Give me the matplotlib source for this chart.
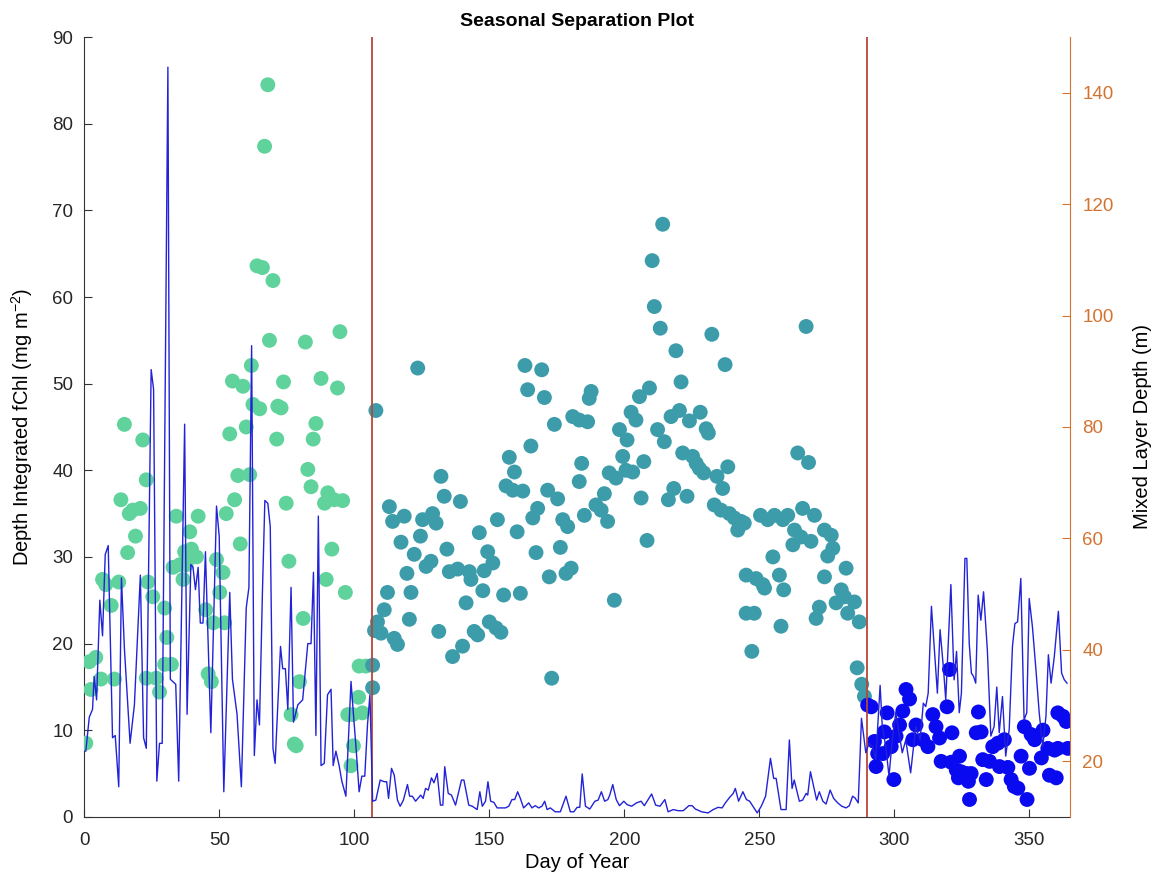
import numpy as np
import matplotlib
matplotlib.use("Agg")
import matplotlib.pyplot as plt

plt.rcParams['font.family'] = ['Liberation Sans', 'DejaVu Sans']
plt.rcParams['mathtext.default'] = 'regular'

# ---------------- Data ----------------
# season boundaries (day of year)
season_bounds = [106.5, 290]

# season 1 (green) depth integrated fChl
s1_day = [0.6, 1.9, 4.3, 2.5, 6.2, 6.8, 8, 10, 11.2, 12.8, 13.6, 14.9, 16.1, 16.7, 18, 20.8,
          19, 21.7, 23, 23, 26.7, 23.6, 25.4, 29.8, 30.6, 29.8, 32.3, 27.9, 34.1, 39.1, 42.2,
          32.9, 35.4, 36.6, 37.2, 39.7, 41.6, 37.8, 45, 45.9, 47.1, 47.8, 49,
          68, 66.8, 64, 66, 69.9, 68.6, 81.9, 94.7, 54.9, 58.8, 61.9, 73.8, 87.7, 93.8,
          62.5, 65, 71.7, 72.9, 53.9, 60, 71.3, 85.8, 84.8, 56.9, 61.3, 82.8, 55.7, 52.6,
          74.8, 84, 90.2, 89, 92.6, 95.7, 57.8, 91.7, 51.4, 75.8, 89.6, 96.7, 50.2, 52,
          81.1, 79.7, 76.6, 78.5, 77.8, 101.8, 104.3, 101.6, 97.6, 99.4, 99.7, 98.8, 103]
s1_chl = [8.5, 17.9, 18.4, 14.7, 15.9, 27.4, 26.8, 24.4, 15.9, 27.1, 36.6, 45.3, 30.5, 35, 35.4, 35.6,
          32.4, 43.5, 38.9, 16, 16, 27.1, 25.4, 24.1, 20.7, 17.6, 17.6, 14.4, 34.7, 32.9, 34.7,
          28.8, 29.1, 27.4, 30.6, 30.9, 30, 29.1, 23.9, 16.5, 15.6, 22.4, 29.7,
          84.5, 77.4, 63.6, 63.4, 61.9, 55, 54.8, 56, 50.3, 49.7, 52.1, 50.2, 50.6, 49.5,
          47.6, 47.1, 47.4, 47.2, 44.2, 45, 43.6, 45.4, 43.6, 39.4, 39.5, 40.1, 36.6, 35,
          36.2, 38.1, 37.4, 36.2, 36.6, 36.5, 31.5, 30.9, 28.2, 29.5, 27.4, 25.9, 25.9, 22.4,
          22.9, 15.6, 11.8, 8.2, 8.4, 17.4, 17.4, 13.8, 11.8, 11.8, 8.2, 5.9, 12]

# season 2 (teal)
s2_day = [108, 123.5, 163.2, 169.4, 164.2, 170.4, 187.7, 187, 174.1, 180.9, 183.3, 186.4, 157.4,
          165.4, 159.3, 184.2, 183.3, 156.2, 158.7, 162.4, 171.6, 175.3, 132.1, 133.3, 139.3,
          167.9, 166.1, 177.2, 179, 185.2, 192.6, 194.4, 196.9, 189.5, 191.4, 193.8, 113, 114.2,
          118.5, 125.3, 129, 130.3, 153, 146.3, 160.3, 117.3, 124.5, 134.3, 122.2, 149.4, 151.3,
          148.1, 126.6, 128.4, 135.2, 138.3, 142.6, 143.2, 167.3, 176.3, 172.2, 178.4, 180.3,
          119.5, 112.3, 121, 141.4, 147.6, 155.3, 161.5, 111.1, 108.6, 109.9, 120.4, 114.8, 116,
          131.3, 144.4, 145.7, 150, 152.5, 154.3, 136.4, 140.1, 173.1, 106.8, 106.8, 107.5,
          214.2, 210.3, 211.1, 213.3, 232.4, 267.3, 219.1, 237.3, 221, 209.3, 205.6, 202.5,
          204.3, 217.3, 220.4, 224.1, 228.1, 230.3, 231.1, 212.3, 214.8, 198.2, 201, 199.4,
          207.2, 200.6, 203.1, 221.6, 225.3, 226.6, 227.8, 229.4, 238.3, 234.3, 236.4, 264.2,
          268.2, 218.3, 216.3, 223.2, 206.2, 233.3, 235.8, 238.9, 240.7, 243.2, 244.4, 242,
          250.4, 255.6, 260.5, 266, 270.4, 253.1, 258.7, 263, 265.4, 274.1, 276.6, 262.4, 269.1,
          277.2, 275.3, 208.4, 255, 282.1, 245.1, 248.8, 251.3, 251.9, 257.4, 259, 274.1, 280.3,
          278.4, 281.5, 285.2, 282.7, 287, 272.2, 271, 245.1, 248.1, 258, 247.2, 196.3, 286.2,
          287.9, 288.9]
s2_chl = [46.9, 51.8, 52.1, 51.6, 49.3, 48.4, 49.1, 48.3, 45.3, 46.2, 45.8, 45.6, 41.5,
          42.8, 39.8, 40.8, 38.7, 38.2, 37.7, 37.6, 37.7, 36.7, 39.3, 37, 36.4,
          35.6, 34.5, 34.3, 33.5, 34.8, 37.3, 39.7, 39.1, 36, 35.4, 34.1, 35.8, 34.1,
          34.7, 34.3, 35, 33.9, 34.3, 32.8, 32.9, 31.7, 32.4, 30.9, 30.3, 30.6, 29.3,
          28.4, 28.9, 29.5, 28.3, 28.6, 28.3, 27.4, 30.5, 31.1, 27.7, 28.1, 28.7,
          28.1, 25.9, 25.9, 24.7, 26.1, 25.6, 25.8, 23.9, 22.5, 21.2, 22.8, 20.6, 19.9,
          21.4, 21.4, 21, 22.5, 21.8, 21.3, 18.5, 19.7, 16, 17.5, 14.9, 21.5,
          68.4, 64.2, 58.9, 56.4, 55.7, 56.6, 53.8, 52.2, 50.2, 49.5, 48.5, 46.7,
          45.8, 46.2, 46.9, 45.7, 46.7, 44.8, 44.3, 44.7, 43.3, 44.7, 43.5, 41.6,
          41, 40, 39.8, 42, 41.6, 40.8, 40.2, 39.7, 40.4, 39.3, 37.9, 42,
          40.9, 37.9, 36.6, 37, 36.8, 36, 35.4, 35, 34.5, 34.1, 33.9, 33.1,
          34.8, 34.8, 34.8, 35.6, 34.8, 34.3, 34.3, 33.1, 32.3, 33.1, 32.5, 31.4, 31.8,
          31, 30.1, 31.9, 30, 28.7, 27.9, 27.5, 26.8, 26.4, 27.9, 26.2, 27.7, 26.2,
          24.7, 25.4, 24.8, 23.5, 22.5, 24.2, 22.9, 23.5, 23.5, 22, 19.1, 25, 17.2,
          15.3, 13.9]

# season 3 (blue)
s3_day = [290.1, 291.4, 292.6, 293.8, 293.2, 295.7, 296.3, 297.3, 298.8, 299.8, 301.9, 303.1,
          300.6, 304.3, 305.6, 308, 306.8, 310.5, 312.4, 314.2, 315.4, 316.7, 317.3, 320.4,
          319.5, 321.3, 321, 324.1, 322.9, 324.7, 326.6, 328.4, 323.7, 327.4, 327.8, 330.3,
          332.1, 331.1, 334, 332.7, 335.2, 336.4, 338.3, 340.7, 338.9, 342, 343.2, 344.4,
          345.7, 349.1, 346.9, 348.1, 350.6, 351.9, 350, 355, 354.4, 356.8, 359.3, 357.4,
          359.9, 360.5, 362.4, 363.6, 360.5, 364.2]
s3_chl = [12.9, 12.7, 8.7, 7.3, 5.8, 7.3, 9.8, 12, 8.1, 4.3, 10.6, 12.2,
          9.3, 14.7, 13.6, 10.6, 8.9, 8.9, 8.1, 11.8, 10.4, 9.1, 6.4, 17,
          12.7, 9.7, 6.3, 7, 5.4, 5.2, 5, 5, 4.5, 4.1, 2, 9.7,
          9.8, 12.1, 4.3, 6.6, 6.4, 8.1, 8.5, 8.9, 5.8, 5.7, 4.3, 3.5,
          3.3, 2, 7, 10.4, 9.5, 8.9, 5.6, 10, 6.8, 7.9, 7.7, 4.8,
          4.5, 12, 11.6, 11, 7.9, 7.9]

# mixed layer depth (m), right axis
mld_day = [0.6, 1.9, 3.1, 3.7, 4.6, 5.8, 6.8, 7.8, 8.9, 10.5, 11.5, 12.8, 13.8, 14.9, 17, 18.6,
           20.8, 22, 23, 24.8, 25.7, 26.9, 27.9, 28.9, 31, 31.9, 33.9, 35, 37.2, 38.1, 39.5,
           40.3, 41.2, 42.2, 43, 44, 44.9, 46.9, 49, 50, 51.7, 53.9, 54.9, 56.6, 58.2, 60, 61,
           62, 63, 64, 64.9, 66, 66.9, 68, 68.9, 69.9, 70.7, 72.7, 73.5, 74.5, 75.4, 76.6,
           77.5, 79.1, 80.9, 82.8, 84, 84.9, 85.8, 86.7, 87.7, 88.9, 90.1, 91.4, 92.2, 93.2,
           94.4, 95.4, 96.9, 98.8, 99.7, 100.6, 101.8, 102.8, 103.9, 104.9, 105.8, 106.8, 108,
           109.6, 111.1, 112, 112.7, 113.8, 114.8, 116, 117, 118.2, 119.7, 120.5, 121.5, 122.7,
           124.6, 125.5, 126.4, 127.4, 128.6, 129.5, 130.7, 131.9, 132.8, 133.5, 134.8, 136,
           137.5, 139.7, 140.6, 142.4, 143.7, 145.5, 146.5, 147.4, 148.6, 149.5, 150.5, 151.7,
           152.9, 156, 157.2, 158.4, 159.4, 160.5, 161.5, 162.7, 164.6, 165.8, 167, 168.3,
           169.5, 170.5, 171.4, 172.6, 174.4, 176.3, 178.4, 180, 181.3, 182.5, 183.5, 184.4,
           185.6, 187.2, 189.1, 190.3, 191.5, 192.7, 193.9, 194.6, 195.7, 197, 198.2, 199.8,
           201, 202.7, 204.5, 206.2, 207.4, 210.1, 211.6, 213.2, 215, 216.2, 218.1, 219.9,
           221.8, 223.9, 225.1, 226.3, 228.6, 231, 232.9, 234.7, 236.2, 237.4, 239, 240.3,
           241.1, 242.3, 243.9, 245.2, 246.4, 247.6, 249.2, 250.7, 252.3, 254.1, 255.3, 256.2,
           258, 259.9, 261.1, 262.1, 262.9, 264.8, 266, 267.3, 267.9, 268.9, 270.1, 271.2,
           272.2, 273.5, 274.7, 276.2, 277.5, 279, 280.5, 282.1, 283.3, 284.5, 285.4, 286.6,
           287.8, 289.4, 290.6, 291.9, 293.1, 294.7, 295.5, 296.8, 298, 299.2, 300.5, 301.7,
           302.9, 304.2, 306, 307.9, 309.5, 310.7, 311.6, 312.5, 313.7, 314.9, 315.9, 316.9,
           318.2, 319, 320.9, 322.1, 323, 324, 324.8, 326.1, 326.8, 327.7, 328.5, 329.3, 330.1,
           331, 332, 333, 334.4, 335.7, 336.9, 337.9, 338.8, 340, 341.2, 342.5, 343.7, 344.6,
           345.6, 346.8, 348, 349, 349.9, 351.1, 352.4, 353.6, 354.9, 356.1, 357, 358, 359.2,
           360.7, 361.9, 362.9, 363.9]
mld = [21.8, 27.9, 29.3, 35.2, 31, 48.9, 42.5, 57.1, 58.7, 24.2, 24.6, 15.4, 52.9, 40.2, 23.2, 30.1,
       53.4, 24.2, 22.3, 90.3, 86.8, 16.4, 23.2, 23.2, 144.6, 34.7, 33.8, 16.4, 80.5, 28.4, 55.3,
       54.8, 50.8, 54.8, 44.8, 44.8, 57.6, 25.1, 65.8, 60.4, 14.5, 50.3, 34.7, 28.4, 15.4, 47.5, 51.2,
       94.6, 21, 31, 26.5, 50.3, 66.8, 66.3, 62.1, 22.3, 19.6, 40.6, 36.6, 36.6, 29.3, 51.2,
       27, 30.1, 31, 41.1, 41.1, 53.9, 24.6, 64, 19.2, 19.6, 31.9, 32.9, 19.2, 21.8,
       19.2, 16.4, 13.7, 34.3, 28.4, 22.8, 14.5, 17.3, 17.3, 26.5, 31.9, 12.8, 13,
       16.6, 16.3, 16.3, 13.3, 18.7, 17.5, 13, 11.9, 13, 15.8, 13.7, 13.7, 12.8,
       13.9, 13.3, 15.1, 14.8, 17, 16.1, 17.8, 12.1, 12.1, 19, 14.2, 13.9,
       12.1, 16.6, 16.6, 12.1, 11.9, 11.3, 14.5, 11.9, 12.8, 16.3, 12.8, 12.6,
       11.6, 11.6, 11.9, 13.1, 13.1, 14.5, 13.3, 11.6, 12.5, 11.6, 12, 11.6,
       11.9, 12.8, 11.3, 11.6, 10.9, 10.9, 13.7, 10.9, 10.9, 11.7, 11.7, 17.7,
       11.9, 11.4, 12.8, 13, 14.5, 12.8, 13.1, 13.9, 15.8, 13.1, 12, 12.8,
       12.2, 11.9, 12.5, 12.8, 12, 14.1, 12.1, 11.9, 13.1, 10.9, 11.3, 11.1,
       11.1, 12, 12, 11.4, 10.9, 10.7, 11.3, 11.7, 11.6, 12.5, 13.5, 14.2,
       15.1, 12.8, 14.5, 13.1, 12.8, 11.9, 10.7, 11.9, 13.7, 20.5, 16.9, 16.9,
       11.3, 11.3, 23.8, 15.1, 16.6, 12.8, 13, 14.2, 13.9, 18.1, 15.4, 13,
       14.5, 12.8, 12.3, 14.8, 13.3, 12.5, 11.9, 11.6, 12, 13.7, 13.4, 12.5,
       27.7, 21.5, 23.2, 22.6, 20.3, 33.6, 26.2, 22.6, 17.3, 23.8, 28.7, 25.1,
       21.5, 23.8, 17.9, 26.2, 23.8, 30.4, 29.8, 32.2, 47.8, 39.4, 32.2, 43.6,
       36.4, 31, 51.7, 34.6, 39.7, 28.7, 32.2, 56.4, 56.4, 41.1, 35.8, 35.2, 34,
       49.8, 45.3, 50.4, 40, 24.5, 26.2, 33.3, 25.1, 31.6, 20.9, 25.7, 40.6, 44.7,
       45, 52.8, 27.4, 28.7, 49.2, 44.1, 36.4, 28.7, 22.6, 28, 39.1, 34, 38.8,
       46.9, 35.8, 34.6, 34]

# ---------------- Plot ----------------
fig = plt.figure(figsize=(11.53, 8.84), dpi=100)
ax = fig.add_axes([0.073, 0.076, 0.855, 0.882])
ax2 = ax.twinx()

ax.scatter(s1_day, s1_chl, s=115, color="#5fd39b", edgecolors="none", zorder=3)
ax.scatter(s2_day, s2_chl, s=115, color="#3d9caa", edgecolors="none", zorder=3)
ax.scatter(s3_day, s3_chl, s=115, color="#0a0af0", edgecolors="none", zorder=3)

ax2.plot(mld_day, mld, color="#2222d8", linewidth=1.0)

for b in season_bounds:
    ax.axvline(b, color="#b5473a", linewidth=1.3, zorder=4)

ax.set_xlim(0, 365)
ax.set_ylim(0, 90)
ax.set_xticks(np.arange(0, 351, 50))
ax.set_yticks(np.arange(0, 91, 10))
ax2.set_ylim(10, 150)
ax2.set_yticks(np.arange(20, 141, 20))

orange = "#d4732f"
ax.tick_params(direction="in", length=6, labelsize=13.5, color="#333333", labelcolor="#262626")
ax.tick_params(axis="x", top=False, pad=11)
ax.tick_params(axis="y", right=False, pad=8)
ax2.tick_params(direction="in", length=6, labelsize=13.5, color=orange, labelcolor=orange, pad=9)

ax.spines["top"].set_visible(False)
ax2.spines["top"].set_visible(False)
ax.spines["right"].set_visible(False)
ax2.spines["left"].set_visible(False)
ax2.spines["bottom"].set_visible(False)
ax2.spines["right"].set_color(orange)
for s in ["left", "bottom"]:
    ax.spines[s].set_color("#333333")

ax.set_xlabel("Day of Year", fontsize=14.5, labelpad=3)
ax.set_ylabel("Depth Integrated fChl (mg m$^{-2}$)", fontsize=14.5, labelpad=12)
ax2.set_ylabel("Mixed Layer Depth (m)", fontsize=14.5, labelpad=14)
ax.set_title("Seasonal Separation Plot", fontsize=14, fontweight="bold", pad=8)

fig.savefig("out.png", dpi=100)
